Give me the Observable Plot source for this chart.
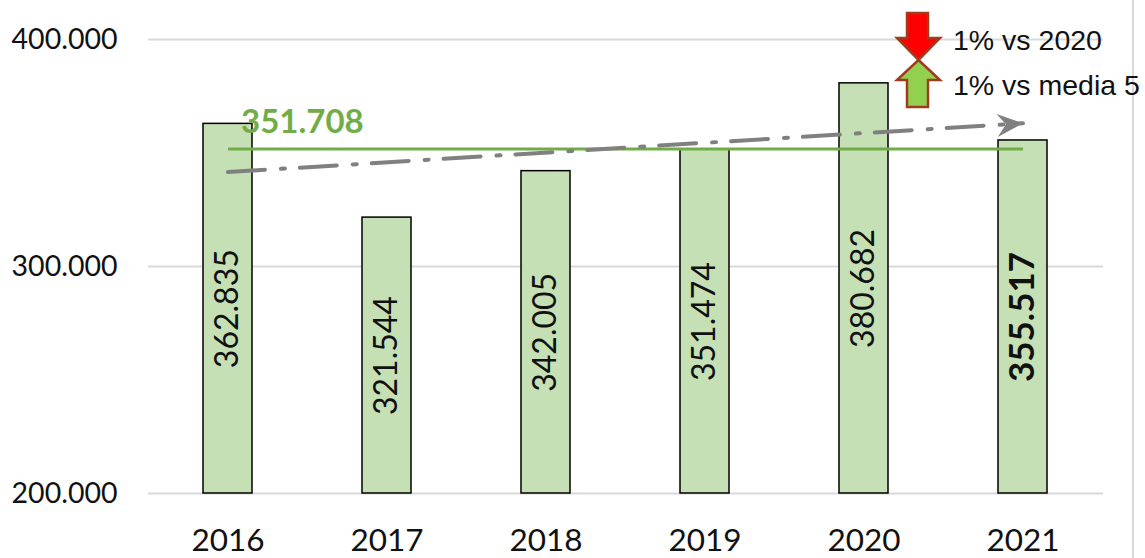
<!DOCTYPE html>
<html><head><meta charset="utf-8">
<script src="https://cdn.jsdelivr.net/npm/d3@7"></script>
<script src="https://cdn.jsdelivr.net/npm/@observablehq/plot@0.6"></script>
<style>
html,body{margin:0;padding:0;background:#fff;}
#wrap{position:relative;width:1145px;height:558px;overflow:hidden;font-family:Lato,sans-serif;}
#chart svg{display:block;}
#overlay{position:absolute;left:0;top:0;pointer-events:none;}
</style></head>
<body><div id="wrap"><div id="chart"></div>
<svg id="overlay" width="1145" height="558">
  <line x1="1133" y1="0" x2="1133" y2="558" stroke="#d9d9d9" stroke-width="2"/>
  <g transform="translate(895,10)">
    <polygon points="12,3 33,3 33,28 45,28 23.5,50 2,28 12,28" fill="#FF0000" stroke="#A03C1E" stroke-width="2.5"/>
    <polygon points="23.5,50 45,70 33,70 33,97 12,97 12,70 2,70" fill="#92D050" stroke="#A03C1E" stroke-width="2.5"/>
  </g>
  <text id="note1" x="953" y="50" font-family="Liberation Sans, Arial, sans-serif" font-size="28.5" fill="#111"></text>
  <text id="note2" x="953" y="95" font-family="Liberation Sans, Arial, sans-serif" font-size="28.5" fill="#111"></text>
</svg>
</div>
<script>
const years = ["2016", "2017", "2018", "2019", "2020", "2021"];
const values = [362835, 321544, 342005, 351474, 380682, 355517];
const yTicks = [200000, 300000, 400000];
const yDomain = [200000, 400000];
const notes = ["1% vs 2020", "1% vs media 5"];

document.getElementById("note1").textContent = notes[0];
document.getElementById("note2").textContent = notes[1];

const fmt = d3.formatLocale({decimal: ",", thousands: ".", grouping: [3], currency: ["", "€"]}).format(",.0f");
const data = years.map((year, i) => ({year, value: values[i]}));
const avg = d3.mean(values.slice(0, 5));
const xs = years.map((_, i) => i);
const mx = d3.mean(xs), my = d3.mean(values);
const slope = d3.sum(xs, (x, i) => (x - mx) * (values[i] - my)) / d3.sum(xs, x => (x - mx) ** 2);
const trend = [
  {year: years[0], value: my - slope * mx},
  {year: years[years.length - 1], value: my + slope * (xs[xs.length - 1] - mx)}
];

const stealth = {
  draw(ctx) {
    ctx.moveTo(0, 0);
    ctx.lineTo(-26, -11);
    ctx.lineTo(-17, 0);
    ctx.lineTo(-26, 12);
    ctx.closePath();
  }
};

function make(angle) {
  const marks = [
    Plot.ruleY(yTicks, {stroke: "#d9d9d9", strokeOpacity: 1, strokeWidth: 2}),
    Plot.text(yTicks, {y: d => d, frameAnchor: "left", textAnchor: "end", dx: -31, text: d => fmt(d), fontSize: 28.5, fill: "#111"}),
    Plot.text(years, {x: d => d, frameAnchor: "bottom", lineAnchor: "top", dy: 35, text: d => d, fontSize: 31.5, fill: "#111"}),
    Plot.barY(data, {x: "year", y1: () => yDomain[0], y2: "value", fill: "#C5E0B4", stroke: "#000", strokeWidth: 1.5}),
    Plot.text(data.slice(0, -1), {x: "year", y: d => (d.value + yDomain[0]) / 2, text: d => fmt(d.value), rotate: -90, fontSize: 32, fill: "#111"}),
    Plot.text(data.slice(-1), {x: "year", y: d => (d.value + yDomain[0]) / 2, text: d => fmt(d.value), rotate: -90, fontSize: 35, fontWeight: "bold", fill: "#111"}),
    Plot.link([avg], {x1: () => years[0], x2: () => years[years.length - 1], y1: d => d, y2: d => d, stroke: "#70AD47", strokeWidth: 3}),
    Plot.text([avg], {x: () => years[0], y: d => d, text: d => fmt(d), textAnchor: "start", dx: 13, dy: -27, fill: "#70AD47", fontWeight: "bold", fontSize: 33}),
    Plot.line(trend, {x: "year", y: "value", stroke: "#808080", strokeWidth: 4, strokeDasharray: "37,16,4,15"})
  ];
  if (angle != null) {
    marks.push(Plot.dot(trend.slice(-1), {x: "year", y: "value", symbol: stealth, fill: "#808080", stroke: "none", rotate: angle}));
  }
  return Plot.plot({
    width: 1145,
    height: 558,
    marginLeft: 148,
    marginRight: 42,
    marginTop: 39,
    marginBottom: 65,
    style: {fontFamily: "Lato, sans-serif", background: "#fff"},
    x: {domain: years, paddingInner: 0.69, paddingOuter: 0.345, axis: null},
    y: {domain: yDomain, axis: null},
    marks
  });
}

let angle = -3.5;
try {
  const p0 = make(null);
  const sx = p0.scale("x"), sy = p0.scale("y");
  const x0 = sx.apply(trend[0].year), x1 = sx.apply(trend[1].year);
  const y0 = sy.apply(trend[0].value), y1 = sy.apply(trend[1].value);
  if (isFinite(x0) && isFinite(y0)) angle = Math.atan2(y1 - y0, x1 - x0) * 180 / Math.PI;
} catch (e) {}
document.getElementById("chart").append(make(angle));
</script>
</body></html>
